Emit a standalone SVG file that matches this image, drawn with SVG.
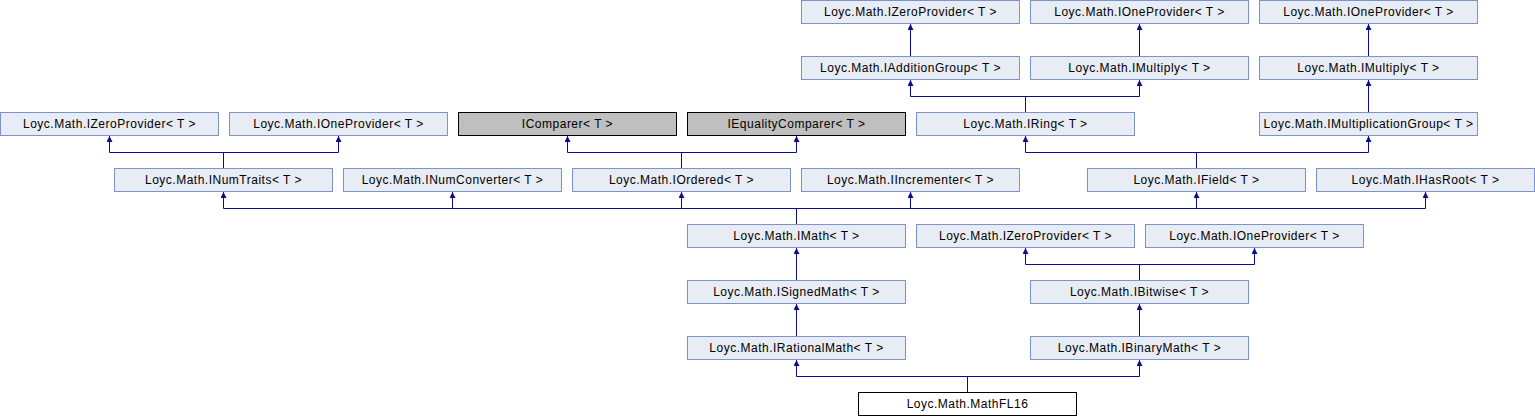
<svg xmlns="http://www.w3.org/2000/svg" width="1535" height="416" viewBox="0 0 1535 416">
<style>
.n rect{fill:#e8ecf5;stroke:#7b93c9;stroke-width:1}
.n.g rect{fill:#bfbfbf;stroke:#000}
.n.w rect{fill:#fff;stroke:#000}
.n text{font-family:"Liberation Sans",Arial,sans-serif;font-size:12px;letter-spacing:0.5px;fill:#000;text-anchor:middle}
#edges path{fill:none;stroke:#0c0c8e;stroke-width:1;marker-end:url(#ah)}
</style>
<defs>
<marker id="ah" markerUnits="userSpaceOnUse" markerWidth="6" markerHeight="6" viewBox="0 0 6 6" refX="6" refY="3" orient="auto">
<path d="M0,0 L6,3 L0,6 z" fill="#0c0c8e"/>
</marker>
</defs>
<rect width="1535" height="416" fill="#fff"/>
<g id="edges">
<path d="M910.5,56.5 V24"/>
<path d="M1139.5,56.5 V24"/>
<path d="M1368.5,56.5 V24"/>
<path d="M1025.5,112.5 V96.5 H910.5 V80"/>
<path d="M1025.5,112.5 V96.5 H1139.5 V80"/>
<path d="M1368.5,112.5 V80"/>
<path d="M223.5,168.5 V152.5 H109.5 V136"/>
<path d="M223.5,168.5 V152.5 H338.5 V136"/>
<path d="M681.5,168.5 V152.5 H567.5 V136"/>
<path d="M681.5,168.5 V152.5 H796.5 V136"/>
<path d="M1196.5,168.5 V152.5 H1025.5 V136"/>
<path d="M1196.5,168.5 V152.5 H1368.5 V136"/>
<path d="M796.5,224.5 V208.5 H223.5 V192"/>
<path d="M796.5,224.5 V208.5 H452.5 V192"/>
<path d="M796.5,224.5 V208.5 H681.5 V192"/>
<path d="M796.5,224.5 V208.5 H910.5 V192"/>
<path d="M796.5,224.5 V208.5 H1196.5 V192"/>
<path d="M796.5,224.5 V208.5 H1425.5 V192"/>
<path d="M796.5,280.5 V248"/>
<path d="M1139.5,280.5 V264.5 H1025.5 V248"/>
<path d="M1139.5,280.5 V264.5 H1254.5 V248"/>
<path d="M796.5,336.5 V304"/>
<path d="M1139.5,336.5 V304"/>
<path d="M967.5,392.5 V376.5 H796.5 V360"/>
<path d="M967.5,392.5 V376.5 H1139.5 V360"/>
</g>
<g id="n0" class="n"><rect x="801.5" y="0.5" width="218" height="23"/><text x="910.5" y="16">Loyc.Math.IZeroProvider&lt; T &gt;</text></g>
<g id="n1" class="n"><rect x="1030.5" y="0.5" width="218" height="23"/><text x="1139.5" y="16">Loyc.Math.IOneProvider&lt; T &gt;</text></g>
<g id="n2" class="n"><rect x="1259.5" y="0.5" width="218" height="23"/><text x="1368.5" y="16">Loyc.Math.IOneProvider&lt; T &gt;</text></g>
<g id="n3" class="n"><rect x="801.5" y="56.5" width="218" height="23"/><text x="910.5" y="72">Loyc.Math.IAdditionGroup&lt; T &gt;</text></g>
<g id="n4" class="n"><rect x="1030.5" y="56.5" width="218" height="23"/><text x="1139.5" y="72">Loyc.Math.IMultiply&lt; T &gt;</text></g>
<g id="n5" class="n"><rect x="1259.5" y="56.5" width="218" height="23"/><text x="1368.5" y="72">Loyc.Math.IMultiply&lt; T &gt;</text></g>
<g id="n6" class="n"><rect x="0.5" y="112.5" width="218" height="23"/><text x="109.5" y="128">Loyc.Math.IZeroProvider&lt; T &gt;</text></g>
<g id="n7" class="n"><rect x="229.5" y="112.5" width="218" height="23"/><text x="338.5" y="128">Loyc.Math.IOneProvider&lt; T &gt;</text></g>
<g id="n8" class="n g"><rect x="458.5" y="112.5" width="218" height="23"/><text x="567.5" y="128">IComparer&lt; T &gt;</text></g>
<g id="n9" class="n g"><rect x="687.5" y="112.5" width="218" height="23"/><text x="796.5" y="128">IEqualityComparer&lt; T &gt;</text></g>
<g id="n10" class="n"><rect x="916.5" y="112.5" width="218" height="23"/><text x="1025.5" y="128">Loyc.Math.IRing&lt; T &gt;</text></g>
<g id="n11" class="n"><rect x="1259.5" y="112.5" width="218" height="23"/><text x="1368.5" y="128">Loyc.Math.IMultiplicationGroup&lt; T &gt;</text></g>
<g id="n12" class="n"><rect x="114.5" y="168.5" width="218" height="23"/><text x="223.5" y="184">Loyc.Math.INumTraits&lt; T &gt;</text></g>
<g id="n13" class="n"><rect x="343.5" y="168.5" width="218" height="23"/><text x="452.5" y="184">Loyc.Math.INumConverter&lt; T &gt;</text></g>
<g id="n14" class="n"><rect x="572.5" y="168.5" width="218" height="23"/><text x="681.5" y="184">Loyc.Math.IOrdered&lt; T &gt;</text></g>
<g id="n15" class="n"><rect x="801.5" y="168.5" width="218" height="23"/><text x="910.5" y="184">Loyc.Math.IIncrementer&lt; T &gt;</text></g>
<g id="n16" class="n"><rect x="1087.5" y="168.5" width="218" height="23"/><text x="1196.5" y="184">Loyc.Math.IField&lt; T &gt;</text></g>
<g id="n17" class="n"><rect x="1316.5" y="168.5" width="218" height="23"/><text x="1425.5" y="184">Loyc.Math.IHasRoot&lt; T &gt;</text></g>
<g id="n18" class="n"><rect x="687.5" y="224.5" width="218" height="23"/><text x="796.5" y="240">Loyc.Math.IMath&lt; T &gt;</text></g>
<g id="n19" class="n"><rect x="916.5" y="224.5" width="218" height="23"/><text x="1025.5" y="240">Loyc.Math.IZeroProvider&lt; T &gt;</text></g>
<g id="n20" class="n"><rect x="1145.5" y="224.5" width="218" height="23"/><text x="1254.5" y="240">Loyc.Math.IOneProvider&lt; T &gt;</text></g>
<g id="n21" class="n"><rect x="687.5" y="280.5" width="218" height="23"/><text x="796.5" y="296">Loyc.Math.ISignedMath&lt; T &gt;</text></g>
<g id="n22" class="n"><rect x="1030.5" y="280.5" width="218" height="23"/><text x="1139.5" y="296">Loyc.Math.IBitwise&lt; T &gt;</text></g>
<g id="n23" class="n"><rect x="687.5" y="336.5" width="218" height="23"/><text x="796.5" y="352">Loyc.Math.IRationalMath&lt; T &gt;</text></g>
<g id="n24" class="n"><rect x="1030.5" y="336.5" width="218" height="23"/><text x="1139.5" y="352">Loyc.Math.IBinaryMath&lt; T &gt;</text></g>
<g id="n25" class="n w"><rect x="858.5" y="392.5" width="218" height="23"/><text x="967.5" y="408">Loyc.Math.MathFL16</text></g>
</svg>
